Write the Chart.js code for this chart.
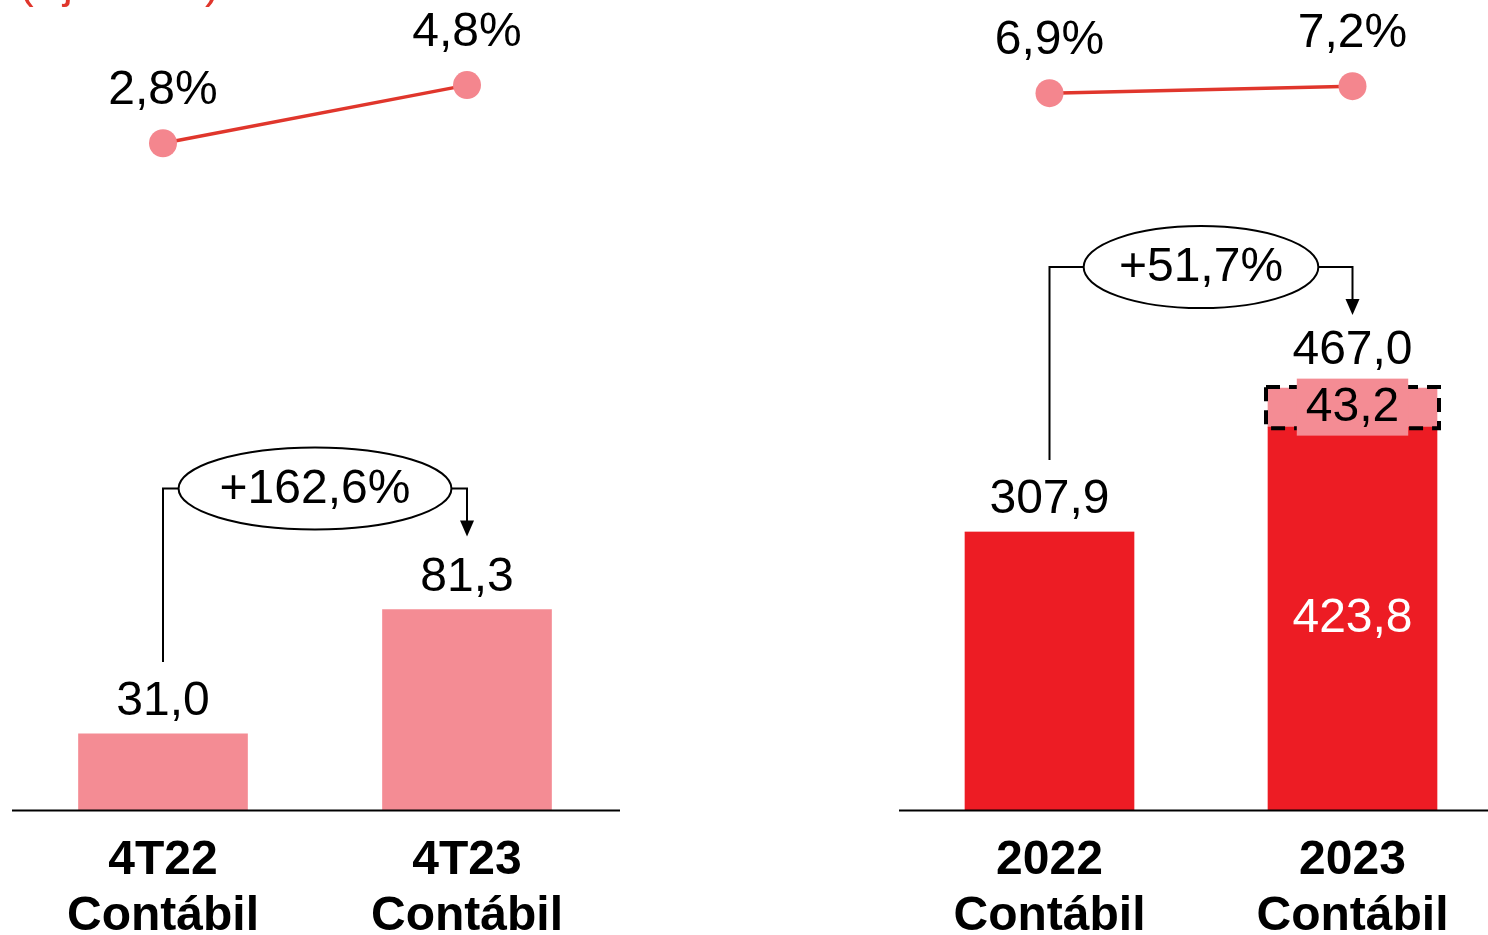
<!DOCTYPE html>
<html>
<head>
<meta charset="utf-8">
<script src="https://cdn.jsdelivr.net/npm/chart.js@4.4.1/dist/chart.umd.min.js"></script>
<style>
    html, body { margin: 0; padding: 0; background: #fff; overflow: hidden; width: 1488px; height: 935px; }
    .panel { position: absolute; top: -5px; height: 986px; width: 640px; }
    #left-panel { left: -3px; }
    #right-panel { left: 883.5px; }
</style>
</head>
<body>
<div class="panel" id="left-panel"><canvas id="quarter-chart"></canvas></div>
<div class="panel" id="right-panel"><canvas id="year-chart"></canvas></div>
<script>
// values
const quarterLabels = [["4T22", "Contábil"], ["4T23", "Contábil"]];
const quarterProfit = [31.0, 81.3];
const quarterRoae = [2.8, 4.8];

const yearLabels = [["2022", "Contábil"], ["2023", "Contábil"]];
const yearProfit = [307.9, 423.8];
const yearAdjustment = [0, 43.2];
const yearRoae = [6.9, 7.2];

const growthLabels = ["+162,6%", "+51,7%"];
const headerText = "(Ajustado)";

const PINK = "#F48C94";
const RED = "#ED1C24";
const LINE_RED = "#E0362C";
const FONT = '"Liberation Sans", Arial, sans-serif';

const fmt = (v) => v.toFixed(1).replace(".", ",");

const annotations = {
    id: "annotations",
    afterDatasetsDraw(chart, args, opts) {
        const ctx = chart.ctx;
        const area = chart.chartArea;
        const datasets = chart.data.datasets;
        const barSets = datasets.map((d, i) => i).filter((i) => datasets[i].type !== "line");
        const lineSets = datasets.map((d, i) => i).filter((i) => datasets[i].type === "line");

        ctx.save();
        // base line
        ctx.strokeStyle = "#000";
        ctx.lineWidth = 2;
        ctx.beginPath();
        ctx.moveTo(area.left + 1, area.bottom);
        ctx.lineTo(area.right + 1, area.bottom);
        ctx.stroke();

        ctx.textAlign = "center";
        ctx.textBaseline = "middle";
        ctx.font = "48px " + FONT;

        const tops = [];
        chart.data.labels.forEach((_, idx) => {
            const segs = barSets
                .map((i) => ({ds: datasets[i], el: chart.getDatasetMeta(i).data[idx], v: datasets[i].data[idx]}))
                .filter((s) => s.v);
            const top = Math.min(...segs.map((s) => s.el.y));
            const x = segs[0].el.x;
            tops.push({x, top});

            if (segs.length === 1) {
                ctx.fillStyle = "#000";
                ctx.fillText(fmt(segs[0].v), x, top - 32);
                return;
            }
            segs.forEach((s, k) => {
                const el = s.el;
                if (k === 0) {
                    ctx.fillStyle = "#fff";
                    ctx.fillText(fmt(s.v), x, (el.y + el.base) / 2);
                } else {
                    const half = el.width / 2 + 2;
                    ctx.setLineDash([14, 9]);
                    ctx.lineWidth = 4;
                    ctx.strokeStyle = "#000";
                    ctx.strokeRect(x - half, el.y - 1, half * 2, el.base - el.y + 2);
                    ctx.setLineDash([]);
                    const w = ctx.measureText(fmt(s.v)).width + 18;
                    const cy = (el.y + el.base) / 2;
                    ctx.fillStyle = s.ds.backgroundColor;
                    ctx.fillRect(x - w / 2, cy - 29, w, 57);
                    ctx.fillStyle = "#000";
                    ctx.fillText(fmt(s.v), x, cy);
                }
            });
            const total = segs.reduce((a, s) => a + s.v, 0);
            ctx.fillStyle = "#000";
            ctx.fillText(fmt(total), x, top - 37);
        });

        // line labels
        lineSets.forEach((i) => {
            chart.getDatasetMeta(i).data.forEach((pt, idx) => {
                ctx.fillStyle = "#000";
                ctx.fillText(fmt(datasets[i].data[idx]) + "%", pt.x, pt.y - 52);
            });
        });

        // growth bubble with connector
        if (opts.growth) {
            const a = tops[0], b = tops[1];
            const cx = (a.x + b.x) / 2;
            const cy = Math.min(a.top, b.top) - 121;
            const rx = ctx.measureText(opts.growth).width * 0.715;
            const ry = 41;
            ctx.strokeStyle = "#000";
            ctx.lineWidth = 2;
            ctx.beginPath();
            ctx.moveTo(a.x, a.top - 72);
            ctx.lineTo(a.x, cy);
            ctx.lineTo(cx - rx, cy);
            ctx.moveTo(cx + rx, cy);
            ctx.lineTo(b.x, cy);
            ctx.lineTo(b.x, b.top - 88);
            ctx.stroke();
            ctx.fillStyle = "#000";
            ctx.beginPath();
            ctx.moveTo(b.x - 7, b.top - 89);
            ctx.lineTo(b.x + 7, b.top - 89);
            ctx.lineTo(b.x, b.top - 73);
            ctx.closePath();
            ctx.fill();
            ctx.beginPath();
            ctx.ellipse(cx, cy, rx, ry, 0, 0, Math.PI * 2);
            ctx.fillStyle = "#fff";
            ctx.fill();
            ctx.stroke();
            ctx.fillStyle = "#000";
            ctx.fillText(opts.growth, cx, cy + 1);
        }

        if (opts.header) {
            ctx.textAlign = "left";
            ctx.textBaseline = "alphabetic";
            ctx.font = "44px " + FONT;
            ctx.fillStyle = LINE_RED;
            ctx.fillText(opts.header, 22, 3);
        }
        ctx.restore();
    },
};

const buildChart = (canvasId, cfg) => {
    const ctx = document.getElementById(canvasId).getContext("2d");
    return new Chart(ctx, {
        type: "bar",
        data: {
            labels: cfg.labels,
            datasets: [
                ...cfg.bars,
                {
                    type: "line",
                    label: "ROAE",
                    data: cfg.roae,
                    yAxisID: "y2",
                    borderColor: LINE_RED,
                    borderWidth: 3.5,
                    pointRadius: 14,
                    pointBackgroundColor: "#F4868E",
                    pointBorderWidth: 0,
                    clip: false,
                },
            ],
        },
        options: {
            animation: false,
            responsive: true,
            maintainAspectRatio: false,
            layout: {padding: cfg.padding},
            plugins: {
                legend: {display: false},
                tooltip: {enabled: false},
                annotations: {growth: cfg.growth, header: cfg.header},
            },
            scales: {
                x: {
                    stacked: true,
                    grid: {display: false, drawTicks: false},
                    border: {display: false},
                    ticks: {
                        padding: 23,
                        color: "#000",
                        font: {family: FONT, size: 48, weight: "bold", lineHeight: 1.15},
                    },
                },
                y: {display: false, stacked: true, min: 0, max: cfg.yMax},
                y2: {display: false, min: cfg.lineMin, max: cfg.lineMax},
            },
        },
        plugins: [annotations],
    });
};

buildChart("quarter-chart", {
    labels: quarterLabels,
    bars: [{label: "Lucro", data: quarterProfit, backgroundColor: PINK, barThickness: 169}],
    roae: quarterRoae,
    yMax: 324,
    lineMin: -20.17,
    lineMax: 7.42,
    growth: growthLabels[0],
    header: headerText,
    padding: {left: 14, right: 18, top: 14, bottom: 14},
});

buildChart("year-chart", {
    labels: yearLabels,
    bars: [
        {label: "Lucro", data: yearProfit, backgroundColor: RED, barThickness: 169},
        {label: "Ajuste", data: yearAdjustment, backgroundColor: PINK, barThickness: 169},
    ],
    roae: yearRoae,
    yMax: 886,
    lineMin: -23.79,
    lineMax: 10.5,
    growth: growthLabels[1],
    padding: {left: 14, right: 20, top: 14, bottom: 14},
});
</script>
</body>
</html>
